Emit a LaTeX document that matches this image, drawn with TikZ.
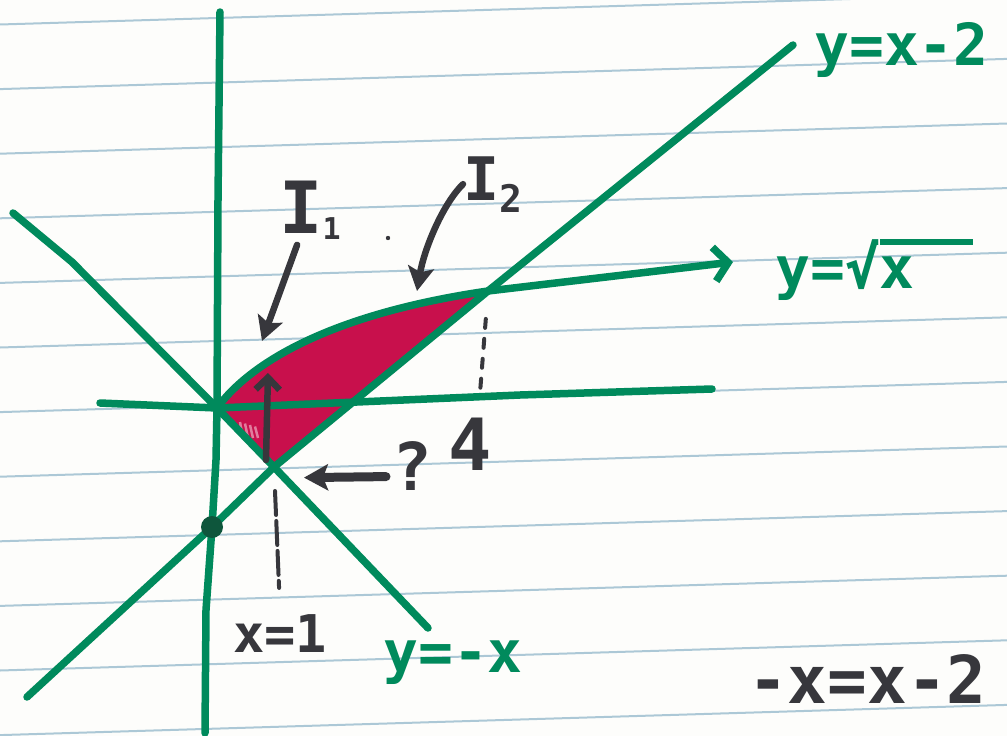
\documentclass[tikz,border=0pt]{standalone}
\usepackage{fontspec}
\setmainfont{DejaVu Sans Mono}
\usepackage{xcolor}
\usetikzlibrary{arrows.meta,positioning,calc}
\definecolor{markgreen}{RGB}{0,138,92}
\definecolor{dotgreen}{RGB}{14,86,60}
\definecolor{pencil}{RGB}{55,55,60}
\definecolor{magfill}{RGB}{200,16,76}
\definecolor{ruleblue}{RGB}{172,200,214}
\definecolor{paper}{RGB}{253,253,251}

\begin{document}
\begin{tikzpicture}[x=1pt,y=-1pt,
    ruled/.style={draw=ruleblue,line width=2pt},
    curve/.style={draw=markgreen,line width=7.5pt,line cap=round,
                  line join=round},
    pen/.style={draw=pencil,line width=6.5pt,line cap=round,
                -{Stealth[length=24pt,width=26pt,inset=5pt]}},
    hint/.style={draw=pencil,line width=4pt,line cap=round},
    glab/.style={text=markgreen,inner sep=0pt,anchor=base west},
    klab/.style={text=pencil,inner sep=0pt,anchor=base west},
  ]
  \useasboundingbox (0,0) rectangle (1007,736);
  \fill[paper] (0,0) rectangle (1007,736);
  \begin{scope}
    \clip (0,0) rectangle (1007,736);
    \foreach \k in {0,...,11}
      \draw[ruled] (0,{24.5+64.6*\k}) -- (1007,{24.5+64.6*\k-30.2});
  \end{scope}

  \coordinate (O) at (217,408);
  \coordinate (P) at (488,291);
  \coordinate (Q) at (274,467);
  \coordinate (D) at (212,527);
  \coordinate (A4) at (480,393);
  \coordinate (c1) at (262,341);
  \coordinate (c2) at (417,291);
  \coordinate (vb) at (266,460);
  \coordinate (vt) at (268,373);

  \fill[magfill] (O) .. controls (250,363) and (330,314) .. (P) -- (Q) -- cycle;
  \foreach \u in {0,5,10,15}
    \draw[magfill!55,line width=2.5pt] (240+\u,422+\u*0.3) -- (243+\u,438);

  \draw[curve] (220,12) -- (218,200) -- (O) -- (216,460) -- (D)
    -- (206,610) -- (205,733);
  \draw[curve] (100,403) -- (O) -- (520,395) -- (712,389);
  \draw[curve] (13,213) -- (72,262) -- (O) -- (Q) -- (428,628);
  \draw[curve] (27,697) -- (D) -- (Q) -- (P) -- (793,45);
  \draw[curve,-{Straight Barb[length=14pt,width=34pt]}]
    (O) .. controls (250,363) and (330,314) .. (P) -- (733,262);
  \fill[dotgreen] (D) circle (11);

  \node[glab,font=\bfseries\fontsize{58}{58}\selectfont] (lxm2) at (814,65)
    {y=x-2};
  \node[glab,font=\bfseries\fontsize{58}{58}\selectfont] (lsqrt) at (775,288)
    {y=√\rlap{\rule[.74em]{1.6em}{.1em}}x};
  \node[glab,font=\bfseries\fontsize{58}{58}\selectfont] (lnegx) at (383,672)
    {y=-x};
  \node[klab,font=\bfseries\fontsize{52}{52}\selectfont] (lx1) at (233,652)
    {x=1};
  \node[klab,font=\bfseries\fontsize{66}{66}\selectfont] (leq) at (748,703)
    {-x=x-2};
  \node[klab,font=\bfseries\fontsize{72}{72}\selectfont] (i1) at (279,233)
    {I\raisebox{-6pt}{\fontsize{30}{30}\selectfont 1}};
  \node[klab,font=\bfseries\fontsize{60}{60}\selectfont] (i2) at (463,200)
    {I\raisebox{-12pt}{\fontsize{38}{38}\selectfont 2}};
  \node[klab,font=\bfseries\fontsize{66}{66}\selectfont] (qmark) at (392,490)
    {?};
  \node[klab,font=\bfseries\fontsize{72}{72}\selectfont] (four) at (448,470)
    {4};
  \fill[pencil] (388,238) circle (2.2);

  \draw[pen,shorten <=6pt] (i1) -- (c1);
  \draw[pen] (i2.west) .. controls (442,205) and (424,250) .. (c2);
  \draw[pen,line width=9pt,shorten <=6pt,shorten >=30pt]
    ([yshift=-11pt]qmark.west) -- ([yshift=-11pt]Q);
  \draw[draw=pencil,line width=6.5pt,line cap=round,
        -{Straight Barb[length=12pt,width=24pt]}] (vb) -- (vt);
  \draw[hint,dash pattern=on 24pt off 6pt,shorten <=24pt,shorten >=26pt]
    (Q) -- (lx1.north);
  \draw[hint,dash pattern=on 9pt off 11pt,shorten <=28pt] (P) -- (A4);
\end{tikzpicture}
\end{document}
